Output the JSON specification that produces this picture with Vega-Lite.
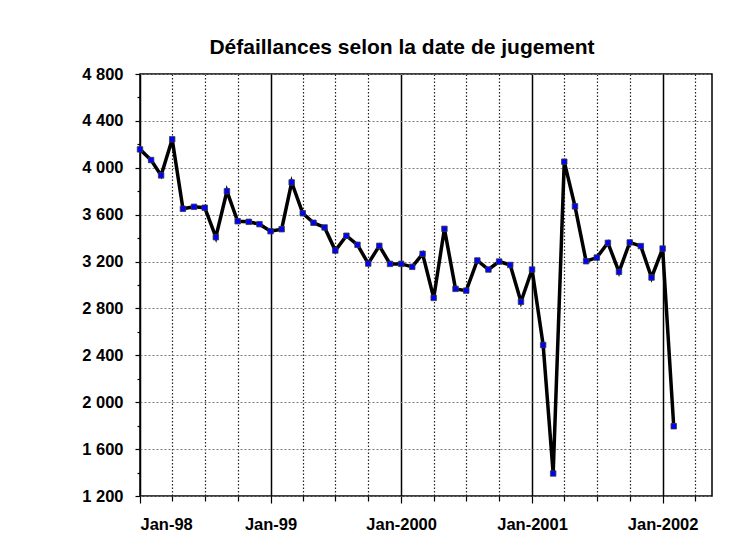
{
  "$schema": "https://vega.github.io/schema/vega-lite/v6.json",
  "width": 572,
  "height": 422,
  "autosize": {"type": "none"},
  "padding": {"left": 140, "top": 74, "right": 38, "bottom": 45},
  "background": "white",
  "title": {
    "text": "Défaillances selon la date de jugement",
    "font": "Liberation Sans",
    "fontSize": 21,
    "fontWeight": "bold",
    "color": "black",
    "anchor": "middle",
    "frame": "group",
    "dx": -24,
    "offset": 8
  },
  "config": {
    "view": {"stroke": "black", "strokeWidth": 1.5},
    "axis": {
      "labelFont": "Liberation Sans",
      "labelFontSize": 16.5,
      "labelFontWeight": "bold",
      "labelColor": "black",
      "tickColor": "black",
      "tickWidth": 1.2,
      "domain": false,
      "title": null
    }
  },
  "data": {
    "values": [
      {"date": "1998-01-01", "value": 4157},
      {"date": "1998-02-01", "value": 4066},
      {"date": "1998-03-01", "value": 3935},
      {"date": "1998-04-01", "value": 4243},
      {"date": "1998-05-01", "value": 3650},
      {"date": "1998-06-01", "value": 3667},
      {"date": "1998-07-01", "value": 3659},
      {"date": "1998-08-01", "value": 3408},
      {"date": "1998-09-01", "value": 3800},
      {"date": "1998-10-01", "value": 3544},
      {"date": "1998-11-01", "value": 3539},
      {"date": "1998-12-01", "value": 3519},
      {"date": "1999-01-01", "value": 3459},
      {"date": "1999-02-01", "value": 3476},
      {"date": "1999-03-01", "value": 3875},
      {"date": "1999-04-01", "value": 3612},
      {"date": "1999-05-01", "value": 3531},
      {"date": "1999-06-01", "value": 3491},
      {"date": "1999-07-01", "value": 3294},
      {"date": "1999-08-01", "value": 3420},
      {"date": "1999-09-01", "value": 3343},
      {"date": "1999-10-01", "value": 3183},
      {"date": "1999-11-01", "value": 3334},
      {"date": "1999-12-01", "value": 3180},
      {"date": "2000-01-01", "value": 3180},
      {"date": "2000-02-01", "value": 3155},
      {"date": "2000-03-01", "value": 3266},
      {"date": "2000-04-01", "value": 2890},
      {"date": "2000-05-01", "value": 3479},
      {"date": "2000-06-01", "value": 2967},
      {"date": "2000-07-01", "value": 2952},
      {"date": "2000-08-01", "value": 3209},
      {"date": "2000-09-01", "value": 3132},
      {"date": "2000-10-01", "value": 3200},
      {"date": "2000-11-01", "value": 3171},
      {"date": "2000-12-01", "value": 2857},
      {"date": "2001-01-01", "value": 3132},
      {"date": "2001-02-01", "value": 2488},
      {"date": "2001-03-01", "value": 1392},
      {"date": "2001-04-01", "value": 4052},
      {"date": "2001-05-01", "value": 3671},
      {"date": "2001-06-01", "value": 3203},
      {"date": "2001-07-01", "value": 3234},
      {"date": "2001-08-01", "value": 3360},
      {"date": "2001-09-01", "value": 3112},
      {"date": "2001-10-01", "value": 3363},
      {"date": "2001-11-01", "value": 3332},
      {"date": "2001-12-01", "value": 3064},
      {"date": "2002-01-01", "value": 3311},
      {"date": "2002-02-01", "value": 1795}
    ]
  },
  "layer": [
    {
      "mark": {"type": "line", "color": "black", "strokeWidth": 3.5, "strokeJoin": "miter", "strokeMiterLimit": 4},
      "encoding": {
        "x": {
          "field": "date",
          "type": "temporal",
          "scale": {"type": "utc", "domain": [{"year": 1998, "month": 1, "date": 1, "utc": true}, {"year": 2002, "month": 5, "date": 19, "utc": true}]},
          "axis": {
            "orient": "bottom",
            "values": [
              {"year": 1998, "month": 4, "date": 1, "utc": true},
              {"year": 1998, "month": 7, "date": 1, "utc": true},
              {"year": 1998, "month": 10, "date": 1, "utc": true},
              {"year": 1999, "month": 4, "date": 1, "utc": true},
              {"year": 1999, "month": 7, "date": 1, "utc": true},
              {"year": 1999, "month": 10, "date": 1, "utc": true},
              {"year": 2000, "month": 4, "date": 1, "utc": true},
              {"year": 2000, "month": 7, "date": 1, "utc": true},
              {"year": 2000, "month": 10, "date": 1, "utc": true},
              {"year": 2001, "month": 4, "date": 1, "utc": true},
              {"year": 2001, "month": 7, "date": 1, "utc": true},
              {"year": 2001, "month": 10, "date": 1, "utc": true},
              {"year": 2002, "month": 4, "date": 1, "utc": true}
            ],
            "labels": false,
            "tickSize": 5,
            "grid": true,
            "gridColor": "#222222",
            "gridDash": [1.5, 2],
            "gridWidth": 1.2
          }
        },
        "y": {
          "field": "value",
          "type": "quantitative",
          "scale": {"domain": [1200, 4800], "nice": false, "zero": false},
          "axis": {
            "orient": "left",
            "values": [1200, 1600, 2000, 2400, 2800, 3200, 3600, 4000, 4400, 4800],
            "labelExpr": "replace(format(datum.value, ','), ',', ' ')",
            "tickSize": 5,
            "labelPadding": 12,
            "grid": true,
            "gridColor": "#7a7a7a",
            "gridDash": [2, 2],
            "gridWidth": 1
          }
        }
      }
    },
    {
      "mark": {"type": "point", "shape": "square", "filled": true, "fill": "#0000ff", "stroke": "#3a3a3a", "strokeWidth": 0.8, "size": 30, "opacity": 1},
      "encoding": {
        "x": {
          "field": "date",
          "type": "temporal",
          "axis": {
            "orient": "bottom",
            "values": [
              {"year": 1998, "month": 1, "date": 1, "utc": true},
              {"year": 1999, "month": 1, "date": 1, "utc": true},
              {"year": 2000, "month": 1, "date": 1, "utc": true},
              {"year": 2001, "month": 1, "date": 1, "utc": true},
              {"year": 2002, "month": 1, "date": 1, "utc": true}
            ],
            "labelExpr": "utcyear(datum.value) < 2000 ? utcFormat(datum.value, '%b-%y') : utcFormat(datum.value, '%b-%Y')",
            "tickSize": 7,
            "labelPadding": 13,
            "grid": true,
            "gridColor": "black",
            "gridWidth": 1.5
          }
        },
        "y": {
          "field": "value",
          "type": "quantitative",
          "axis": {
            "orient": "left",
            "values": [1400, 1800, 2200, 2600, 3000, 3400, 3800, 4200, 4600],
            "labels": false,
            "tickSize": 3,
            "grid": false
          }
        }
      }
    }
  ],
  "resolve": {"axis": {"x": "independent", "y": "independent"}}
}
